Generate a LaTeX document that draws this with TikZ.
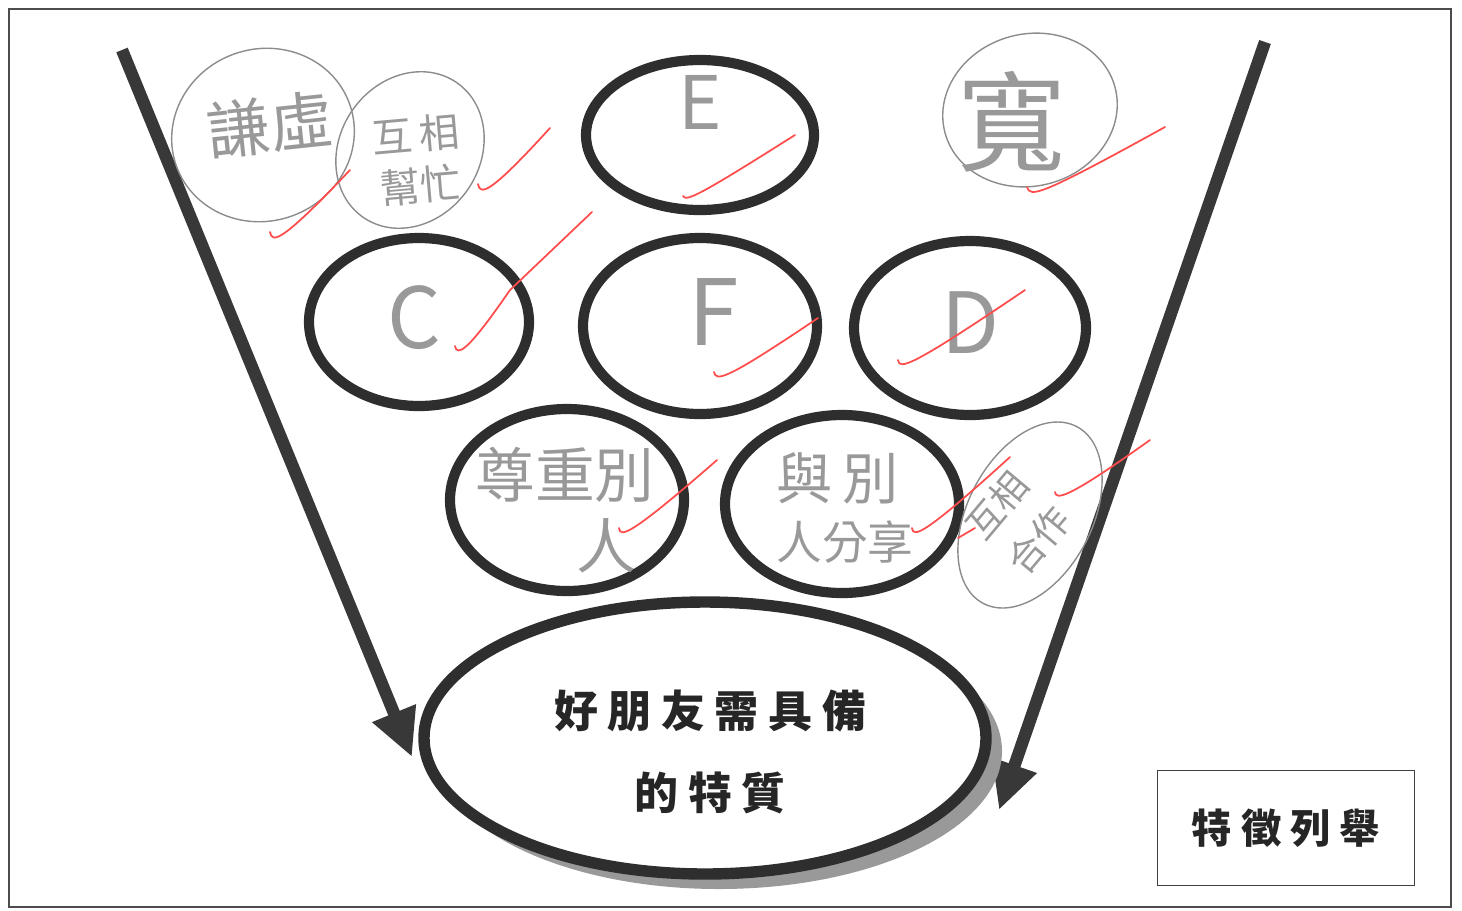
\documentclass[tikz,border=0pt]{standalone}
\usepackage{fontspec}
\newfontfamily\cjk{Noto Sans CJK TC}
\newfontfamily\cjkwide[LetterSpace=22]{Noto Sans CJK TC}
\usetikzlibrary{arrows.meta}

\begin{document}
\begin{tikzpicture}[x=0.02cm,y=-0.02cm,
	ring/.style={line width=5.8pt,draw=black!82},
	pencil/.style={line width=0.8pt,draw=black!45},
	tick/.style={line width=1pt,draw=red!70!white,line cap=round,line join=round},
	hand/.style={text=black!40,font=\cjk\fontsize{#1}{#1}\selectfont,inner sep=0pt},
	bigarrow/.style={line width=7pt,draw=black!78,-{Triangle[length=27pt,width=25pt]}}]
	
	\useasboundingbox (0,0) rectangle (1462,910);
	
	% Draw the frame
	\draw[black!70,line width=0.8pt] (9,9) rectangle (1451,907);
	
	% Draw the two funnel arrows
	\coordinate (ltop) at (122,50);
	\coordinate (ltip) at (412,757);
	\coordinate (rtop) at (1265,42);
	\coordinate (rtip) at (999,810);
	\draw[bigarrow] (ltop) -- (ltip);
	\draw[bigarrow] (rtop) -- (rtip);
	
	% Draw the printed rings
	\draw[ring] (700,135) ellipse (114 and 75);
	\draw[ring] (419,322) ellipse (110 and 84);
	\draw[ring] (700,326) ellipse (117 and 88);
	\draw[ring] (970,328) ellipse (116 and 87);
	\draw[ring] (567,500) ellipse (117 and 91);
	\draw[ring] (842,504) ellipse (117 and 89);
	
	% Draw the big ring with its shadow
	\fill[black!40] (719,751) ellipse (283 and 138);
	\draw[line width=6.5pt,draw=black!82,fill=white] (705,738) ellipse (281 and 136);
	\node[font=\cjkwide\bfseries\fontsize{25}{25}\selectfont,text=black!85,align=center] (goal) at (710,752) {好朋友需具備\\[22pt]的特質};
	
	% Draw the box
	\node[draw=black!75,line width=0.8pt,minimum width=5.14cm,minimum height=2.3cm,
		font=\cjkwide\bfseries\fontsize{23}{23}\selectfont,text=black!85] (list) at (1286,828) {特徵列舉};
	
	% Draw the pencil circles
	\draw[pencil,rotate around={20:(263,135)}] (263,135) ellipse (92 and 86);
	\draw[pencil,rotate around={-35:(410,150)}] (410,150) ellipse (70 and 82);
	\draw[pencil,rotate around={15:(1030,110)}] (1030,110) ellipse (88 and 76);
	\draw[pencil,rotate around={62:(1030,515)}] (1030,515) ellipse (100 and 62);
	
	% Write the answers
	\node[hand=42] (e) at (700,102) {E};
	\node[hand=48] (c) at (414,318) {C};
	\node[hand=52] (f) at (714,312) {F};
	\node[hand=48] (d) at (970,323) {D};
	\node[hand=36,rotate=6] (modest) at (270,125) {謙虛};
	\node[hand=23,align=center,rotate=5] (help) at (418,160) {互\,相\\[6pt]幫忙};
	\node[hand=62] (tolerant) at (1012,122) {寬};
	\node[hand=34,align=left] (respect) at (565,510) {尊重別\\[6pt]\hspace{1.7em}人};
	\node[hand=32,align=left] (share) at (845,508) {與\,別\\[2pt]\fontsize{26}{26}\selectfont 人分享};
	\node[hand=21,align=center,rotate=50] (team) at (1018,523) {互相\\[10pt]合作};
	
	% Draw the red ticks
	\draw[tick] (270,232) .. controls (272,244) and (282,242) .. (350,170);
	\draw[tick] (478,184) .. controls (480,196) and (490,194) .. (550,128);
	\draw[tick] (683,196) .. controls (686,202) and (700,195) .. (795,135);
	\draw[tick] (1027,187) .. controls (1030,198) and (1040,196) .. (1165,127);
	\draw[tick] (455,346) .. controls (457,356) and (466,354) .. (510,290) -- (592,212);
	\draw[tick] (714,372) .. controls (716,382) and (726,380) .. (818,318);
	\draw[tick] (898,360) .. controls (899,370) and (910,368) .. (1025,290);
	\draw[tick] (619,528) .. controls (620,538) and (630,536) .. (717,460);
	\draw[tick] (912,528) .. controls (913,538) and (923,536) .. (1010,457);
	\draw[tick] (958,538) -- (975,528);
	\draw[tick] (1055,492) .. controls (1056,500) and (1066,500) .. (1150,440);
	
\end{tikzpicture}
\end{document}
